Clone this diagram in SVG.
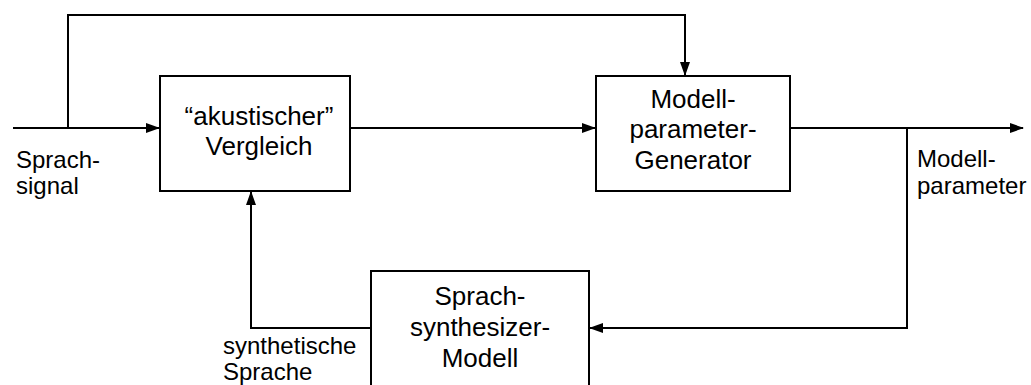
<svg xmlns="http://www.w3.org/2000/svg" width="1031" height="385" viewBox="0 0 1031 385">
<defs>
<marker id="arr" markerWidth="14" markerHeight="10" refX="13" refY="5" orient="auto" markerUnits="userSpaceOnUse">
<path d="M0,0 L14,5 L0,10 z" fill="#000"/>
</marker>
<style>
.box{fill:#fff;stroke:#000;stroke-width:2}
.ln{fill:none;stroke:#000;stroke-width:2}
.t{font-family:"Liberation Sans",Arial,sans-serif;font-size:26px;fill:#000;text-anchor:middle}
.s{font-family:"Liberation Sans",Arial,sans-serif;font-size:24px;fill:#000}
</style>
</defs>
<rect width="1031" height="385" fill="#fff"/>
<g id="connectors">
<path class="ln" d="M13,128 H159" marker-end="url(#arr)"/>
<path class="ln" d="M68,128 V15 H685 V75" marker-end="url(#arr)"/>
<path class="ln" d="M350,128 H595" marker-end="url(#arr)"/>
<path class="ln" d="M790,128 H1023" marker-end="url(#arr)"/>
<path class="ln" d="M907,128 V328 H590" marker-end="url(#arr)"/>
<path class="ln" d="M371,328 H251 V192" marker-end="url(#arr)"/>
</g>
<g id="vergleich">
<rect class="box" x="160" y="76" width="190" height="115"/>
<text class="t" x="259" y="125">“akustischer”</text>
<text class="t" x="259" y="155">Vergleich</text>
</g>
<g id="generator">
<rect class="box" x="596" y="76" width="194" height="115"/>
<text class="t" x="693" y="108">Modell-</text>
<text class="t" x="693" y="138">parameter-</text>
<text class="t" x="693" y="169">Generator</text>
</g>
<g id="synthesizer">
<rect class="box" x="371" y="271" width="218" height="125"/>
<text class="t" x="480" y="305">Sprach-</text>
<text class="t" x="480" y="336">synthesizer-</text>
<text class="t" x="480" y="367">Modell</text>
</g>
<g id="labels">
<text class="s" x="16" y="168">Sprach-</text>
<text class="s" x="16" y="194">signal</text>
<text class="s" x="917" y="167">Modell-</text>
<text class="s" x="917" y="194">parameter</text>
<text class="s" x="223" y="354">synthetische</text>
<text class="s" x="223" y="380">Sprache</text>
</g>
</svg>
